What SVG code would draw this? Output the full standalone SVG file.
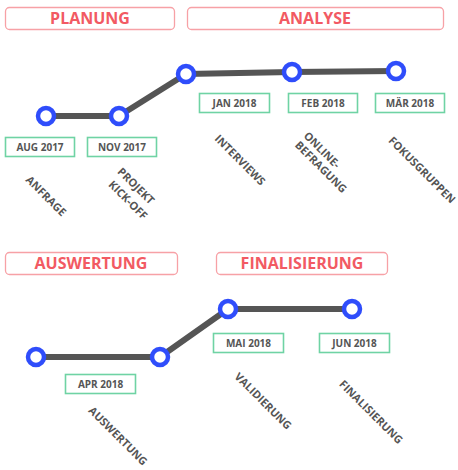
<svg xmlns="http://www.w3.org/2000/svg" width="458" height="470" viewBox="0 0 458 470">
<style>
.hdr{fill:#fff;stroke:#f7a1a6;stroke-width:1.3}
.htx{font-family:"Open Sans","Liberation Sans",sans-serif;font-weight:700;font-size:16px;fill:#f25a63;text-anchor:middle}
.line{fill:none;stroke:#555;stroke-width:6;stroke-linejoin:round}
.dot{fill:#fff;stroke:#2f4dfb;stroke-width:4.5}
.dbox{fill:#fff;stroke:#6fd3a4;stroke-width:1.6}
.dtx{font-family:"Open Sans","Liberation Sans",sans-serif;font-weight:700;font-size:10px;fill:#555;text-anchor:middle}
.lbl{font-family:"Open Sans","Liberation Sans",sans-serif;font-weight:700;font-size:11px;fill:#555;text-anchor:middle}
</style>
<rect width="458" height="470" fill="#fff"/>
<g id="headers">
<g id="h-planung"><rect class="hdr" x="5.5" y="7.5" width="169" height="22" rx="4"/><text class="htx" x="90" y="24">PLANUNG</text></g>
<g id="h-analyse"><rect class="hdr" x="187.5" y="7.5" width="256" height="22" rx="4"/><text class="htx" x="315" y="24">ANALYSE</text></g>
<g id="h-auswertung"><rect class="hdr" x="5.5" y="252.5" width="172" height="22" rx="4"/><text class="htx" x="91" y="269">AUSWERTUNG</text></g>
<g id="h-finalisierung"><rect class="hdr" x="216.5" y="252.5" width="171" height="22" rx="4"/><text class="htx" x="302" y="269">FINALISIERUNG</text></g>
</g>
<g id="connectors">
<polyline class="line" points="46,116 119,116 186,74 292,72 396,71"/>
<polyline class="line" points="36,357 160,357 228,309 352,309"/>
</g>
<g id="m-aug2017">
<circle class="dot" cx="46" cy="116" r="8"/>
<rect class="dbox" x="5.5" y="137.5" width="69" height="19"/><text class="dtx" x="40" y="150.5">AUG 2017</text>
<text class="lbl" transform="rotate(45 46 196)" x="46" y="196" dy="0.35em">ANFRAGE</text>
</g>
<g id="m-nov2017">
<circle class="dot" cx="119" cy="116" r="8"/>
<rect class="dbox" x="87.5" y="137.5" width="69" height="19"/><text class="dtx" x="122" y="150.5">NOV 2017</text>
<text class="lbl" transform="rotate(45 136 186)" x="136" y="186" dy="0.35em">PROJEKT</text>
<text class="lbl" transform="rotate(45 128 200)" x="128" y="200" dy="0.35em">KICK-OFF</text>
</g>
<g id="m-jan2018">
<circle class="dot" cx="186" cy="74" r="8"/>
<rect class="dbox" x="199.5" y="93.5" width="70" height="19"/><text class="dtx" x="234.5" y="106.5">JAN 2018</text>
<text class="lbl" transform="rotate(45 240 160)" x="240" y="160" dy="0.35em">INTERVIEWS</text>
</g>
<g id="m-feb2018">
<circle class="dot" cx="292" cy="72" r="8"/>
<rect class="dbox" x="288.5" y="93.5" width="69" height="19"/><text class="dtx" x="323" y="106.5">FEB 2018</text>
<text class="lbl" transform="rotate(45 322 150)" x="322" y="150" dy="0.35em">ONLINE-</text>
<text class="lbl" transform="rotate(45 321 167)" x="321" y="167" dy="0.35em">BEFRAGUNG</text>
</g>
<g id="m-maer2018">
<circle class="dot" cx="396" cy="71" r="8"/>
<rect class="dbox" x="375.5" y="93.5" width="69" height="19"/><text class="dtx" x="410" y="106.5">MÄR 2018</text>
<text class="lbl" transform="rotate(45 422 170)" x="422" y="170" dy="0.35em">FOKUSGRUPPEN</text>
</g>
<g id="m-start2">
<circle class="dot" cx="36" cy="357" r="8"/>
</g>
<g id="m-apr2018">
<circle class="dot" cx="160" cy="357" r="8"/>
<rect class="dbox" x="65.5" y="374.5" width="70" height="19"/><text class="dtx" x="100.5" y="387.5">APR 2018</text>
<text class="lbl" transform="rotate(45 118 436)" x="118" y="436" dy="0.35em">AUSWERTUNG</text>
</g>
<g id="m-mai2018">
<circle class="dot" cx="228" cy="309" r="8"/>
<rect class="dbox" x="213.5" y="333.5" width="70" height="19"/><text class="dtx" x="248.5" y="346.5">MAI 2018</text>
<text class="lbl" transform="rotate(45 263 401)" x="263" y="401" dy="0.35em">VALIDIERUNG</text>
</g>
<g id="m-jun2018">
<circle class="dot" cx="352" cy="309" r="8"/>
<rect class="dbox" x="319.5" y="333.5" width="70" height="19"/><text class="dtx" x="354.5" y="346.5">JUN 2018</text>
<text class="lbl" transform="rotate(45 371 412)" x="371" y="412" dy="0.35em">FINALISIERUNG</text>
</g>
</svg>
